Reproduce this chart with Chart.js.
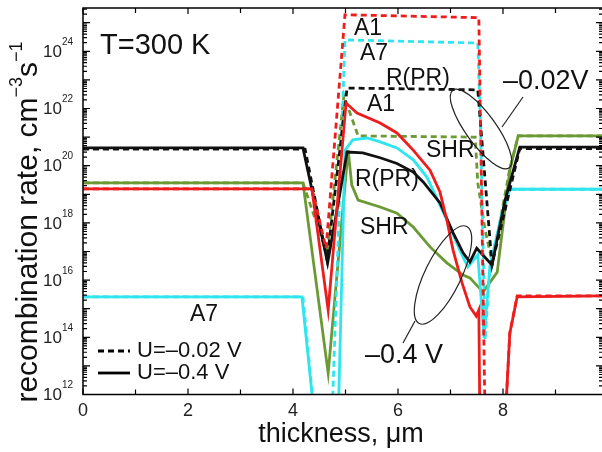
<!DOCTYPE html>
<html>
<head>
<meta charset="utf-8">
<script src="https://cdn.jsdelivr.net/npm/chart.js@4/dist/chart.umd.min.js"></script>
<style>
  body { margin: 0; overflow: hidden; background: #fff; }
  #wrap { width: 610px; height: 452px; }
</style>
</head>
<body>
<div id="wrap"><canvas id="c" width="610" height="452"></canvas></div>
<script>
// thickness (um) / recombination rate (cm-3 s-1)
// dashed = U=-0.02 V, solid = U=-0.4 V
const rprDashX = [0, 4.23, 4.65, 5.03, 7.52, 7.79, 8.32, 9.9];
const rprDashY = [3.8e20, 3.8e20, 5e16, 5.2e22, 4.5e22, 3.5e16, 4e20, 4e20];

const rprSolidX = [0, 4.19, 4.66, 5.03, 5.33, 5.66, 5.98, 6.29, 6.48, 6.8, 7.05, 7.24, 7.37, 7.5, 7.79, 8.04, 8.32, 9.9];
const rprSolidY = [4.2e20, 4.2e20, 4e16, 3e20, 2.8e20, 1.9e20, 1.2e20, 6e19, 2.7e19, 5e18, 4.5e17, 9e16, 4.3e16, 1.3e17, 3.4e16, 6.3e18, 4.5e20, 4.5e20];

const shrDashX = [0, 4.19, 4.65, 4.97, 5.24, 7.47, 7.52, 7.66, 7.8, 8.13, 8.29, 9.9];
const shrDashY = [2.5e19, 2.5e19, 8e16, 2.8e22, 1.1e21, 1e21, 2.5e19, 5.6e17, 4e16, 8e19, 1.1e21, 1.1e21];

const shrSolidX = [0, 4.19, 4.67, 5.05, 5.12, 5.24, 5.66, 5.98, 6.29, 6.61, 6.93, 7.24, 7.37, 7.62, 7.89, 8.13, 8.29, 9.9];
const shrSolidY = [2.5e19, 2.5e19, 5.6e12, 3.5e20, 2.1e19, 6.3e18, 3.6e18, 2.2e18, 7.2e17, 1.45e17, 4e16, 1.5e16, 1.2e16, 3.8e15, 1.9e16, 7e19, 1.1e21, 1.1e21];

const a1DashX = [0, 4.36, 4.63, 4.99, 7.54, 7.66, 8.04, 8.13, 8.27, 9.9];
const a1DashY = [1.55e19, 1.55e19, 1.3e17, 1.9e25, 1.5e25, 1e11, 1e11, 1.4e14, 2.8e15, 2.8e15];

const a1SolidX = [0, 4.36, 4.67, 5.01, 5.22, 5.66, 5.98, 6.29, 6.61, 6.8, 6.93, 7.05, 7.22, 7.37, 7.49, 7.54, 7.56, 8.04, 8.13, 8.27, 9.9];
const a1SolidY = [1.55e19, 1.55e19, 9e14, 1.55e22, 7e21, 3.1e21, 1.4e21, 3.5e20, 7e19, 1.2e19, 1.26e18, 1.1e17, 8e15, 1.15e15, 5.5e14, 9e14, 1e11, 1e11, 1.4e14, 2.6e15, 2.8e15];

const a7DashX = [0, 4.19, 4.42, 4.74, 4.99, 7.52, 7.57, 7.66, 7.75, 7.98, 8.13, 9.9];
const a7DashY = [2.6e15, 2.6e15, 1e11, 1e11, 2.5e24, 1.95e24, 3e21, 8e13, 2.9e16, 2.2e18, 1.5e19, 1.5e19];

const a7SolidX = [0, 4.17, 4.42, 4.86, 4.99, 5.14, 5.41, 5.66, 5.98, 6.29, 6.55, 6.8, 6.93, 7.18, 7.33, 7.47, 7.52, 7.64, 7.75, 7.98, 8.13, 9.9];
const a7SolidY = [2.6e15, 2.6e15, 1e11, 1e11, 3.5e20, 8e20, 9.3e20, 6.8e20, 4.2e20, 1.6e20, 4e19, 4.2e18, 1.26e18, 1.1e17, 2.9e16, 5.9e16, 7.6e16, 9.5e13, 2.9e16, 2.2e18, 1.5e19, 1.5e19];

const xTicks = [0, 2, 4, 6, 8];
const yTickExp = [12, 14, 16, 18, 20, 22, 24];

const RED = '#ee1d1d', GREEN = '#6b9a34', CYAN = '#2fe6ee', BLACK = '#111';
const FONT = '"Liberation Sans", Arial, sans-serif';

function pts(xs, ys) {
  return xs.map((x, i) => ({ x: x, y: ys[i] }));
}

function line(label, xs, ys, color, dashed) {
  return {
    label: label,
    data: pts(xs, ys),
    borderColor: color,
    borderWidth: 2.8,
    borderDash: dashed ? [6, 4] : [],
    pointRadius: 0,
    tension: 0,
    fill: false,
    clip: 0
  };
}

const deco = {
  id: 'deco',
  afterDatasetsDraw(chart) {
    const ctx = chart.ctx;
    const a = chart.chartArea;
    const xs = chart.scales.x, ys = chart.scales.y;
    ctx.save();

    // frame
    ctx.strokeStyle = '#000';
    ctx.lineWidth = 1.5;
    ctx.strokeRect(a.left, a.top, a.right - a.left, a.bottom - a.top);

    // x ticks, inward top and bottom
    ctx.lineWidth = 1.2;
    for (let v = 0; v <= 9; v++) {
      const px = xs.getPixelForValue(v);
      const len = v % 2 === 0 ? 6 : 5;
      ctx.beginPath();
      ctx.moveTo(px, a.bottom); ctx.lineTo(px, a.bottom - len);
      ctx.moveTo(px, a.top); ctx.lineTo(px, a.top + len);
      ctx.stroke();
    }
    // y ticks (log), inward left and right
    for (let e = 12; e <= 25; e++) {
      for (let m = 1; m <= 9; m++) {
        const v = m * Math.pow(10, e);
        if (v > ys.max) break;
        const py = ys.getPixelForValue(v);
        const len = m === 1 ? 7 : 4;
        ctx.beginPath();
        ctx.moveTo(a.left, py); ctx.lineTo(a.left + len, py);
        ctx.moveTo(a.right, py); ctx.lineTo(a.right - len, py);
        ctx.stroke();
      }
    }

    // tick labels
    ctx.fillStyle = '#222';
    ctx.textBaseline = 'middle';
    ctx.textAlign = 'center';
    ctx.font = '18px ' + FONT;
    xTicks.forEach(v => ctx.fillText(String(v), xs.getPixelForValue(v), a.bottom + 17));
    yTickExp.forEach(e => {
      const py = ys.getPixelForValue(Math.pow(10, e));
      ctx.textAlign = 'right';
      ctx.font = '17px ' + FONT;
      ctx.fillText('10', 62, py + 1);
      ctx.textAlign = 'left';
      ctx.font = '10px ' + FONT;
      ctx.fillText(String(e), 62, py - 9);
    });

    // axis titles
    ctx.fillStyle = '#111';
    ctx.textAlign = 'center';
    ctx.font = '27px ' + FONT;
    ctx.fillText('thickness, \u03bcm', 341, 435);

    ctx.save();
    ctx.translate(29, 222);
    ctx.rotate(-Math.PI / 2);
    const big = '30px ' + FONT, small = '18px ' + FONT;
    const parts = [['recombination rate, cm', big, 0], ['\u22123', small, -12], ['s', big, 0], ['\u22121', small, -12]];
    let total = 0;
    parts.forEach(p => { ctx.font = p[1]; total += ctx.measureText(p[0]).width; });
    let cx = -total / 2;
    ctx.textAlign = 'left';
    parts.forEach(p => {
      ctx.font = p[1];
      ctx.fillText(p[0], cx, p[2]);
      cx += ctx.measureText(p[0]).width;
    });
    ctx.restore();

    // annotations
    ctx.textAlign = 'left';
    ctx.fillStyle = '#111';
    ctx.font = '29px ' + FONT;
    ctx.fillText('T=300 K', 100, 46);
    ctx.font = '23px ' + FONT;
    ctx.fillText('A1', 354, 29);
    ctx.fillText('A7', 360, 54);
    ctx.fillText('R(PR)', 386, 79);
    ctx.fillText('A1', 367, 105);
    ctx.fillText('SHR', 426, 151);
    ctx.fillText('R(PR)', 355, 180);
    ctx.fillText('SHR', 360, 228);
    ctx.fillText('A7', 190, 315);
    ctx.font = '27px ' + FONT;
    ctx.fillText('\u20130.02V', 503, 82);
    ctx.fillText('\u20130.4 V', 365, 356);

    // ellipses and leader lines
    ctx.strokeStyle = '#222';
    ctx.lineWidth = 1.2;
    ctx.beginPath();
    ctx.ellipse(481, 129, 48, 15, 54 * Math.PI / 180, 0, Math.PI * 2);
    ctx.stroke();
    ctx.beginPath();
    ctx.moveTo(502, 127); ctx.lineTo(523, 97);
    ctx.stroke();
    ctx.beginPath();
    ctx.ellipse(443, 275, 54, 18, 116 * Math.PI / 180, 0, Math.PI * 2);
    ctx.stroke();
    ctx.beginPath();
    ctx.moveTo(415, 321); ctx.lineTo(403, 343);
    ctx.stroke();

    // legend
    ctx.strokeStyle = '#000';
    ctx.lineWidth = 2.8;
    ctx.setLineDash([6, 4]);
    ctx.beginPath(); ctx.moveTo(98, 351); ctx.lineTo(130, 351); ctx.stroke();
    ctx.setLineDash([]);
    ctx.beginPath(); ctx.moveTo(98, 373); ctx.lineTo(130, 373); ctx.stroke();
    ctx.font = '22px ' + FONT;
    ctx.fillText('U=\u20130.02 V', 137, 351);
    ctx.fillText('U=\u20130.4 V', 137, 373);

    ctx.restore();
  }
};

new Chart(document.getElementById('c'), {
  type: 'line',
  data: {
    datasets: [
      line('A1 -0.02 V', a1DashX, a1DashY, RED, true),
      line('A1 -0.4 V', a1SolidX, a1SolidY, RED, false),
      line('R(PR) -0.02 V', rprDashX, rprDashY, BLACK, true),
      line('R(PR) -0.4 V', rprSolidX, rprSolidY, BLACK, false),
      line('A7 -0.02 V', a7DashX, a7DashY, CYAN, true),
      line('A7 -0.4 V', a7SolidX, a7SolidY, CYAN, false),
      line('SHR -0.02 V', shrDashX, shrDashY, GREEN, true),
      line('SHR -0.4 V', shrSolidX, shrSolidY, GREEN, false)
    ]
  },
  options: {
    responsive: false,
    devicePixelRatio: 1,
    animation: false,
    layout: { padding: { left: 83, top: 8, right: 7, bottom: 57.5 } },
    plugins: { legend: { display: false }, tooltip: { enabled: false } },
    scales: {
      x: { type: 'linear', min: 0, max: 9.905, display: false },
      y: { type: 'logarithmic', min: 1e12, max: 3.27e25, display: false }
    }
  },
  plugins: [deco]
});
</script>
</body>
</html>
